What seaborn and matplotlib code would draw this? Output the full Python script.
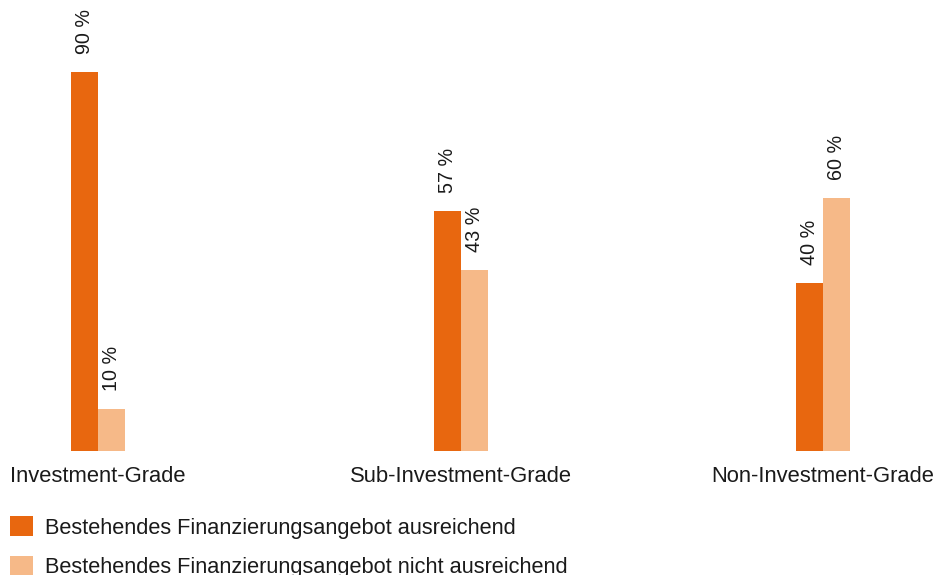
import numpy as np
import pandas as pd
import seaborn as sns
from matplotlib import pyplot as plt

# data
categories = ["Investment-Grade", "Sub-Investment-Grade", "Non-Investment-Grade"]
series = ["Bestehendes Finanzierungsangebot ausreichend",
          "Bestehendes Finanzierungsangebot nicht ausreichend"]
ausreichend = [90, 57, 40]
nicht_ausreichend = [10, 43, 60]
colors = ["#E8670F", "#F6B988"]

sns.set_style("white")
plt.rcParams["font.family"] = ["Liberation Sans", "DejaVu Sans"]

df = pd.DataFrame({
    "category": categories * 2,
    "series": [series[0]] * 3 + [series[1]] * 3,
    "value": ausreichend + nicht_ausreichend,
})

fig = plt.figure(figsize=(9.37, 5.75), dpi=100)
ax = fig.add_axes([0, 124 / 575, 1, 451 / 575])

sns.barplot(data=df, x="category", y="value", hue="series", order=categories,
            hue_order=series, palette=colors, width=0.149, gap=0,
            saturation=1, linewidth=0, ax=ax)

for cont in ax.containers:
    ax.bar_label(cont, labels=[f"{v:.0f} %" for v in cont.datavalues],
                 rotation=90, padding=13, fontsize=14.2, color="#1a1a1a")

ax.set_xlim(-0.27, 2.314)
ax.set_ylim(0, 107.1)
ax.set_xlabel("")
ax.set_ylabel("")
ax.set_yticks([])
ax.tick_params(axis="x", length=0, pad=11, labelsize=15.8, labelcolor="#1a1a1a")
sns.despine(ax=ax, left=True, bottom=True)

handles, labels = ax.get_legend_handles_labels()
ax.legend_.remove()
fig.legend(handles, labels, loc="upper left", bbox_to_anchor=(10 / 937, 1 - 516 / 575),
           frameon=False, fontsize=15.7, handlelength=1.06, handleheight=1.06,
           handletextpad=0.55, labelspacing=0.78, borderpad=0, borderaxespad=0,
           labelcolor="#1a1a1a")

fig.savefig("out.png", dpi=100)
